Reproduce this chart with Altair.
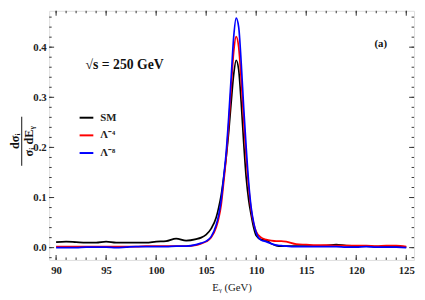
import altair as alt
import pandas as pd

# ---- data ----
E = [90, 91, 92, 93, 94, 95, 96, 97, 98, 99, 100, 101, 102, 103, 104, 104.5,
     105, 105.5, 106, 106.25, 106.5, 106.75, 107, 107.25, 107.5, 107.75, 108,
     108.25, 108.5, 108.75, 109, 109.25, 109.5, 109.75, 110, 110.5, 111, 111.5,
     112, 112.5, 113, 114, 115, 116, 117, 118, 119, 120, 121, 122, 123, 124, 125]

SM = [0.011, 0.012, 0.011, 0.010, 0.010, 0.012, 0.010, 0.010, 0.010, 0.010,
      0.012, 0.013, 0.018, 0.014, 0.017, 0.020, 0.026, 0.038, 0.060, 0.080,
      0.105, 0.140, 0.180, 0.230, 0.290, 0.345, 0.374, 0.355, 0.290, 0.210,
      0.140, 0.095, 0.065, 0.040, 0.024, 0.016, 0.015, 0.008, 0.004, 0.003,
      0.003, 0.003, 0.003, 0.003, 0.004, 0.006, 0.004, 0.003, 0.003, 0.002,
      0.002, 0.002, 0.001]

L4 = [0.002, 0.002, 0.002, 0.002, 0.002, 0.002, 0.002, 0.002, 0.002, 0.003,
      0.003, 0.003, 0.003, 0.003, 0.005, 0.008, 0.012, 0.020, 0.040, 0.058,
      0.085, 0.130, 0.180, 0.245, 0.320, 0.390, 0.421, 0.400, 0.335, 0.255,
      0.180, 0.120, 0.075, 0.048, 0.032, 0.020, 0.016, 0.014, 0.013, 0.013,
      0.012, 0.007, 0.006, 0.005, 0.005, 0.004, 0.004, 0.004, 0.004, 0.003,
      0.004, 0.004, 0.002]

L8 = [0.000, 0.000, 0.000, 0.001, 0.001, 0.001, 0.000, 0.001, 0.002, 0.002,
      0.002, 0.002, 0.003, 0.003, 0.006, 0.009, 0.013, 0.022, 0.045, 0.065,
      0.095, 0.140, 0.190, 0.260, 0.340, 0.420, 0.458, 0.440, 0.370, 0.280,
      0.200, 0.130, 0.080, 0.050, 0.030, 0.015, 0.012, 0.008, 0.005, 0.004,
      0.003, 0.002, 0.002, 0.002, 0.002, 0.002, 0.001, 0.001, 0.002, 0.001,
      0.001, 0.001, 0.000]

SERIES = ["SM", "Λ⁻⁴", "Λ⁻⁸"]
COLORS = ["#000000", "#ff0000", "#0000ff"]

X_MAJOR = [90, 95, 100, 105, 110, 115, 120, 125]
X_MINOR = list(range(90, 126))
Y_MAJOR = [0.0, 0.1, 0.2, 0.3, 0.4]
Y_MINOR = [round(-0.02 + 0.02 * i, 2) for i in range(25)]

XDOM = [89.31, 125.78]
YDOM = [-0.0245, 0.4726]
W, H = 372, 254
FONT = "Liberation Serif, Times New Roman, serif"

rows = []
for name, vals in zip(SERIES, [SM, L4, L8]):
    for e, v in zip(E, vals):
        rows.append({"E": e, "val": v, "series": name, "order": SERIES.index(name)})
df = pd.DataFrame(rows)

xs = alt.Scale(domain=XDOM, nice=False, zero=False)
ys = alt.Scale(domain=YDOM, nice=False, zero=False)

xaxis = alt.Axis(values=X_MAJOR, format="d", ticks=False, domain=False, grid=False,
                 labelFont=FONT, labelFontWeight="bold", labelFontSize=11,
                 labelColor="#222", labelPadding=5,
                 title="Eᵧ (GeV)", titleFont=FONT, titleFontSize=11,
                 titleFontWeight="normal", titleColor="#222", titlePadding=6)
yaxis = alt.Axis(values=Y_MAJOR, format=".1f", ticks=False, domain=False, grid=False,
                 labelFont=FONT, labelFontWeight="bold", labelFontSize=11,
                 labelColor="#222", labelPadding=3, title=None)

lines = alt.Chart(df).mark_line(strokeWidth=1.7, interpolate="monotone").encode(
    x=alt.X("E:Q", scale=xs, axis=xaxis),
    y=alt.Y("val:Q", scale=ys, axis=yaxis),
    color=alt.Color("series:N", scale=alt.Scale(domain=SERIES, range=COLORS),
                    legend=alt.Legend(orient="none", legendX=30, legendY=101,
                                      title=None, symbolType="stroke",
                                      symbolSize=196, symbolStrokeWidth=2,
                                      labelFont=FONT, labelFontWeight="bold",
                                      labelFontSize=11, labelColor="#222",
                                      rowPadding=5, labelOffset=6)),
    order="order:Q",
    detail="series:N",
)

xt_maj = pd.DataFrame({"t": X_MAJOR})
xt_min = pd.DataFrame({"t": X_MINOR})
yt_maj = pd.DataFrame({"t": Y_MAJOR})
yt_min = pd.DataFrame({"t": Y_MINOR})

tick_color = "#333"
ticks = []
for d, ln in [(xt_maj, 5), (xt_min, 2.5)]:
    for y0 in [H, 0]:
        y1 = y0 - ln if y0 == H else ln
        ticks.append(alt.Chart(d).mark_rule(color=tick_color, strokeWidth=1).encode(
            x=alt.X("t:Q", scale=xs), y=alt.value(y0), y2=alt.value(y1)))
for d, ln in [(yt_maj, 5), (yt_min, 2.5)]:
    for x0 in [0, W]:
        x1 = ln if x0 == 0 else W - ln
        ticks.append(alt.Chart(d).mark_rule(color=tick_color, strokeWidth=1).encode(
            y=alt.Y("t:Q", scale=ys), x=alt.value(x0), x2=alt.value(x1)))

ann = pd.DataFrame({"txt": ["√s = 250 GeV"]})
sqrt_txt = alt.Chart(ann).mark_text(font=FONT, fontWeight="bold", fontSize=14,
                                    align="left", baseline="middle", color="#111").encode(
    text="txt:N", x=alt.value(37), y=alt.value(55))
lab = pd.DataFrame({"txt": ["(a)"]})
a_txt = alt.Chart(lab).mark_text(font=FONT, fontWeight="bold", fontSize=11,
                                 align="center", baseline="middle", color="#111").encode(
    text="txt:N", x=alt.value(338), y=alt.value(34))

num = pd.DataFrame({"txt": ["dσᵢ"]})
den = pd.DataFrame({"txt": ["σᵢ dEᵧ"]})
num_txt = alt.Chart(num).mark_text(font=FONT, fontWeight="bold", fontSize=12.5, angle=270,
                                   align="center", baseline="middle", color="#111").encode(
    text="txt:N", x=alt.value(-35), y=alt.value(133))
den_txt = alt.Chart(den).mark_text(font=FONT, fontWeight="bold", fontSize=12.5, angle=270,
                                   align="center", baseline="middle", color="#111").encode(
    text="txt:N", x=alt.value(-21), y=alt.value(133))
bar = alt.Chart(num).mark_rule(color="#111", strokeWidth=1).encode(
    x=alt.value(-28), y=alt.value(108), y2=alt.value(158))

chart = alt.layer(*ticks, lines, sqrt_txt, a_txt, num_txt, den_txt, bar).properties(
    width=W, height=H,
    autosize=alt.AutoSizeParams(type="none"),
    padding={"left": 42, "top": 0, "right": 3, "bottom": 38},
).configure_view(stroke="#333", strokeWidth=1.6).configure(background="white")

chart.save("out.html", embed_options={"renderer": "svg", "actions": False})
